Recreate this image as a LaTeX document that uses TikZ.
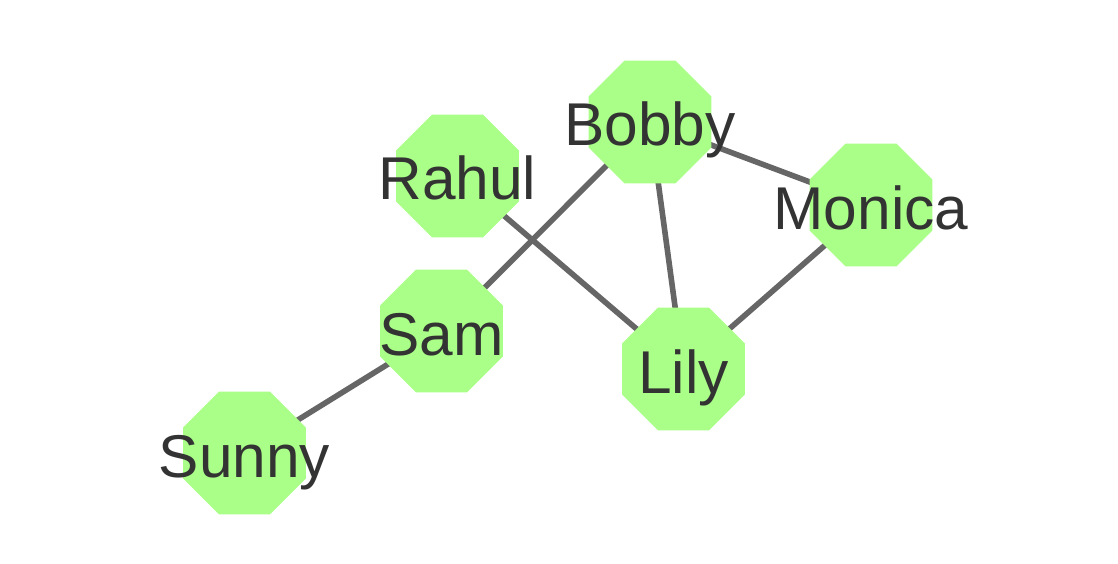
\documentclass[tikz,border=0pt]{standalone}
\usepackage{fontspec}
\setmainfont{Liberation Sans}
\usetikzlibrary{shapes.geometric,backgrounds}
\definecolor{octfill}{HTML}{AAFF88}
\definecolor{nametext}{HTML}{333333}
\definecolor{edgegray}{HTML}{666666}
\tikzset{
  person/.style={regular polygon, regular polygon sides=8, fill=octfill,
    inner sep=0pt, minimum size=66.5pt, text=nametext,
    font=\fontsize{30.2}{31}\selectfont, text height=24pt, text depth=0pt},
  tie/.style={draw=edgegray, line width=2.8pt}
}
\newcommand{\nm}[1]{\makebox[0pt]{#1}}
\begin{document}
\begin{tikzpicture}[x=1pt,y=1pt]
      \useasboundingbox (0,0) rectangle (559,281.5);
      \path
        (325,220.5) node[person] (bobby){\nm{Bobby}}
        (228.75,193.5) node[person] (rahul){\nm{Rahul}}
        (435.5,179) node[person] (monica){\nm{Monica}}
        (220.75,116) node[person] (sam){\nm{Sam}}
        (341.75,97) node[person] (lily){\nm{Lily}}
        (122.25,55) node[person] (sunny){\nm{Sunny}};
      \begin{scope}[on background layer]
        \draw[tie] (bobby.center) to (sam.center);
        \draw[tie] (bobby.center) to (lily.center);
        \draw[tie] (bobby.center) to (monica.center);
        \draw[tie] (rahul.center) to (lily.center);
        \draw[tie] (monica.center) to (lily.center);
        \draw[tie] (sam.center) to (sunny.center);
      \end{scope}
    \end{tikzpicture}
\end{document}
